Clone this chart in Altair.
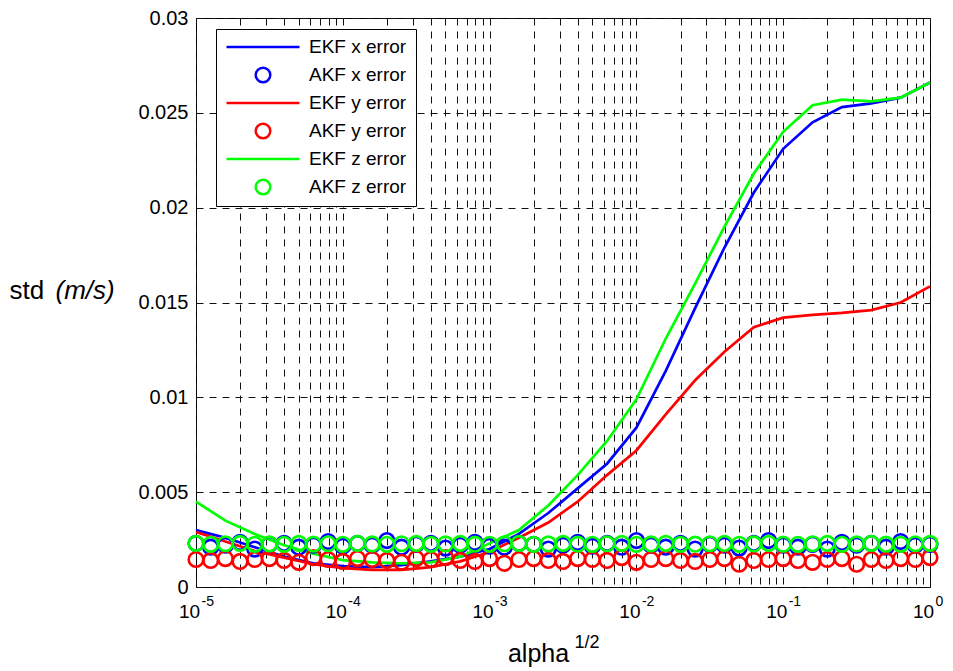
import altair as alt
import pandas as pd

SCALE = 1e-3  # values below are in units of 1e-3 m/s

# EKF curves (exponent of alpha^(1/2), std in 1e-3 m/s)
ekf_exp = [-5.0, -4.8, -4.6, -4.4, -4.2, -4.0, -3.8, -3.6, -3.4, -3.2, -3.0, -2.8, -2.6,
           -2.4, -2.2, -2.0, -1.8, -1.6, -1.4, -1.2, -1.0, -0.8, -0.6, -0.4, -0.2, 0.0]
ekf_x = [3.0, 2.6, 2.1, 1.6, 1.25, 1.1, 1.05, 1.15, 1.35, 1.6, 2.0, 2.8, 3.9,
         5.2, 6.5, 8.4, 11.4, 14.7, 17.9, 20.8, 23.1, 24.5, 25.3, 25.5, 25.8, 26.6]
ekf_y = [2.9, 2.4, 1.9, 1.55, 1.2, 1.0, 0.9, 0.9, 1.05, 1.35, 1.85, 2.6, 3.4,
         4.5, 5.9, 7.2, 9.1, 10.9, 12.4, 13.7, 14.2, 14.35, 14.45, 14.6, 15.0, 15.85]
ekf_z = [4.5, 3.5, 2.8, 2.2, 1.75, 1.42, 1.3, 1.25, 1.3, 1.6, 2.3, 3.0, 4.3,
         5.9, 7.7, 9.9, 13.1, 16.0, 19.0, 21.8, 24.0, 25.4, 25.7, 25.6, 25.8, 26.6]

# AKF circles
akf_exp = [-5.0, -4.9, -4.8, -4.7, -4.6, -4.5, -4.4, -4.3, -4.2, -4.1,
           -4.0, -3.9, -3.8, -3.7, -3.6, -3.5, -3.4, -3.3, -3.2, -3.1,
           -3.0, -2.9, -2.8, -2.7, -2.6, -2.5, -2.4, -2.3, -2.2, -2.1,
           -2.0, -1.9, -1.8, -1.7, -1.6, -1.5, -1.4, -1.3, -1.2, -1.1,
           -1.0, -0.9, -0.8, -0.7, -0.6, -0.5, -0.4, -0.3, -0.2, -0.1, 0.0]
akf_x = [2.3, 2.1, 2.2, 2.35, 2.0, 2.25, 2.3, 2.1, 2.2, 2.4,
         2.15, 2.3, 2.2, 2.45, 2.1, 2.25, 2.3, 2.05, 2.2, 2.35,
         2.15, 2.1, 2.3, 2.25, 2.0, 2.2, 2.35, 2.15, 2.3, 2.1,
         2.45, 2.2, 2.1, 2.3, 2.0, 2.25, 2.2, 2.05, 2.3, 2.45,
         2.2, 2.1, 2.25, 2.0, 2.35, 2.2, 2.3, 2.1, 2.4, 2.2, 2.25]
akf_y = [1.45, 1.4, 1.5, 1.35, 1.45, 1.5, 1.4, 1.3, 1.55, 1.45,
         1.35, 1.5, 1.45, 1.4, 1.3, 1.5, 1.45, 1.55, 1.4, 1.35,
         1.5, 1.25, 1.45, 1.5, 1.4, 1.35, 1.5, 1.45, 1.4, 1.55,
         1.3, 1.45, 1.5, 1.4, 1.35, 1.45, 1.5, 1.2, 1.4, 1.45,
         1.5, 1.4, 1.3, 1.45, 1.5, 1.2, 1.45, 1.4, 1.5, 1.45, 1.55]
akf_z = [2.3, 2.25, 2.28, 2.3, 2.25, 2.27, 2.25, 2.3, 2.26, 2.28,
         2.25, 2.3, 2.27, 2.25, 2.28, 2.3, 2.25, 2.27, 2.3, 2.26,
         2.25, 2.28, 2.3, 2.25, 2.27, 2.3, 2.26, 2.25, 2.28, 2.3,
         2.25, 2.27, 2.3, 2.25, 2.26, 2.28, 2.3, 2.25, 2.27, 2.3,
         2.26, 2.25, 2.28, 2.3, 2.25, 2.27, 2.3, 2.26, 2.25, 2.28, 2.3]

series_order = ["EKF x error", "AKF x error", "EKF y error",
                "AKF y error", "EKF z error", "AKF z error"]
series_colors = ["#0000ff", "#0000ff", "#ff0000", "#ff0000", "#00ff00", "#00ff00"]
LINE_PATH = "M-1,0L1,0"
CIRC_PATH = "M-0.2,0A0.2,0.2,0,1,1,0.2,0A0.2,0.2,0,1,1,-0.2,0Z"
series_shapes = [LINE_PATH, CIRC_PATH] * 3

x_ticks = [1e-5, 1e-4, 1e-3, 1e-2, 1e-1, 1.0]
x_grid = sorted(x_ticks + [m * d for d in [1e-5, 1e-4, 1e-3, 1e-2, 1e-1] for m in range(2, 10)])
y_ticks = [0, 0.005, 0.01, 0.015, 0.02, 0.025, 0.03]

line_rows = []
for name, vals in [("EKF x error", ekf_x), ("EKF y error", ekf_y), ("EKF z error", ekf_z)]:
    for e, v in zip(ekf_exp, vals):
        line_rows.append({"alpha": 10 ** e, "std": v * SCALE, "series": name})
lines_df = pd.DataFrame(line_rows)

pt_rows = []
for name, vals in [("AKF x error", akf_x), ("AKF y error", akf_y), ("AKF z error", akf_z)]:
    for e, v in zip(akf_exp, vals):
        pt_rows.append({"alpha": 10 ** e, "std": v * SCALE, "series": name})
pts_df = pd.DataFrame(pt_rows)

FONT = "Liberation Sans"
xscale = alt.Scale(type="log", domain=[1e-5, 1.0], nice=False)
yscale = alt.Scale(domain=[0, 0.03], nice=False, zero=True)

legend = alt.Legend(
    title=None, orient="none", legendX=20, legendY=11,
    fillColor="white", strokeColor="black", padding=9,
    labelFont=FONT, labelFontSize=19, labelColor="black", labelOffset=8,
    labelExpr="datum.label + '   '",
    symbolSize=5329, symbolStrokeWidth=2.5, clipHeight=18, rowPadding=9,
)
color = alt.Color("series:N", scale=alt.Scale(domain=series_order, range=series_colors), legend=legend)

is_decade = "abs(log(datum.value)/LN10 - round(log(datum.value)/LN10)) < 1e-6"

lines = alt.Chart(lines_df).mark_line(strokeWidth=2.7).encode(
    x=alt.X("alpha:Q", scale=xscale, axis=alt.Axis(
        orient="bottom", values=x_grid, labelExpr=f"{is_decade} ? '10' : ''",
        grid=True, gridDash=[7, 6], gridColor="#111111", gridWidth=1,
        ticks=False, tickSize=0, domain=False, labelFlush=False, labelOverlap=False,
        labelFont=FONT, labelFontSize=19, labelColor="black", labelPadding=15, labelOffset=-7,
        title="alpha", titleFont=FONT, titleFontSize=25, titleFontWeight="normal",
        titleColor="black", titleX=342, titleY=74, titleAlign="center", titleBaseline="alphabetic")),
    y=alt.Y("std:Q", scale=yscale, axis=alt.Axis(
        orient="left", values=y_ticks, format="~g",
        grid=True, gridDash=[7, 6], gridColor="#111111", gridWidth=1,
        ticks=False, tickSize=0, domain=False, labelFlush=False, labelOverlap=False,
        labelFont=FONT, labelFontSize=20, labelColor="black", labelPadding=8,
        title="std", titleFont=FONT, titleFontSize=26, titleFontWeight="normal",
        titleColor="black", titleAngle=0, titleX=-187, titleY=280,
        titleAlign="left", titleBaseline="alphabetic")),
    color=color,
    detail="series:N",
)

points = alt.Chart(pts_df).mark_point(filled=False, strokeWidth=2.6, size=5329, opacity=1).encode(
    x=alt.X("alpha:Q", scale=xscale, axis=alt.Axis(
        orient="bottom", values=x_grid,
        labelExpr=f"{is_decade} ? toString(round(log(datum.value)/LN10)) : ''",
        grid=False, ticks=False, tickSize=0, domain=False, labelFlush=False, labelOverlap=False,
        labelFont=FONT, labelFontSize=14, labelColor="black", labelPadding=7,
        labelAlign="left", labelOffset=5,
        title="1/2", titleFont=FONT, titleFontSize=18, titleFontWeight="normal",
        titleColor="black", titleX=378, titleY=60, titleAlign="left", titleBaseline="alphabetic")),
    y=alt.Y("std:Q", scale=yscale, axis=alt.Axis(
        orient="left", labels=False, grid=False, ticks=False, domain=False,
        title="(m/s)", titleFont=FONT, titleFontSize=26, titleFontWeight="normal",
        titleFontStyle="italic", titleColor="black", titleAngle=0, titleX=-141, titleY=280,
        titleAlign="left", titleBaseline="alphabetic")),
    color=color,
    shape=alt.Shape("series:N", scale=alt.Scale(domain=series_order, range=series_shapes), legend=legend),
)

chart = alt.layer(lines, points).resolve_axis(x="independent", y="independent").properties(
    width=734, height=569,
    padding={"left": 196, "top": 18, "right": 23, "bottom": 84},
    autosize=alt.AutoSizeParams(type="none"),
    background="white",
).configure_view(stroke="black", strokeWidth=1)

chart.save("out.html", embed_options={"renderer": "svg", "actions": False})
